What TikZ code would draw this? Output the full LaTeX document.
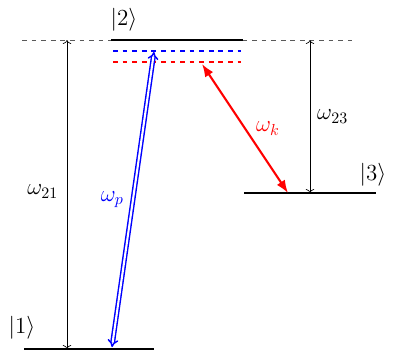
\documentclass[tikz,border=0pt]{standalone}
\usepackage{tikz}
\usetikzlibrary{arrows.meta}
\usepackage{amsmath, amsfonts}

\begin{document}
\begin{tikzpicture}[x=0.022cm, y=-0.022cm, every node/.style = {font=\Large}, level/.style = {line width=1.2pt}, virt/.style = {dashed, line width=0.8pt}]
            \useasboundingbox (0,0) rectangle (398,354);

            \coordinate (L1a) at (24,349);
            \coordinate (L1b) at (154,349);
            \coordinate (L2a) at (111,40);
            \coordinate (L2b) at (243,40);
            \coordinate (L3a) at (244,193);
            \coordinate (L3b) at (376,193);
            \coordinate (Ga) at (22,40);
            \coordinate (Gb) at (352,40);
            \coordinate (Ba) at (113,51);
            \coordinate (Bb) at (241,51);
            \coordinate (Ra) at (113,62);
            \coordinate (Rb) at (241,62);

            \node (K1) at (22,328) {$|1\rangle$};
            \node (K2) at (124,20) {$|2\rangle$};
            \node (K3) at (373,175) {$|3\rangle$};

            \draw[black!65, dashed, line width=0.6pt] (Ga) -- (Gb);
            \draw[level] (L1a) -- (L1b);
            \draw[level] (L2a) -- (L2b);
            \draw[level] (L3a) -- (L3b);
            \draw[virt, blue] (Ba) -- (Bb);
            \draw[virt, red] (Ra) -- (Rb);

            \coordinate (A21t) at (67,40);
            \coordinate (A21b) at (67,349);
            \coordinate (A23t) at (310,40);
            \coordinate (A23b) at (310,193);
            \draw[<->] (A21b) -- node[left=2pt, pos=0.51] {$\omega_{21}$} (A21t);
            \draw[<->] (A23b) -- node[right=1pt, pos=0.5] {$\omega_{23}$} (A23t);

            \coordinate (Pt) at (154,52);
            \coordinate (Pb) at (112,347);
            \draw[blue, double, line width=0.9pt, double distance=1.3pt, {Implies}-{Implies}] (Pt) -- node[left=2pt, pos=0.5] {$\omega_p$} (Pb);

            \coordinate (Kt) at (202,64);
            \coordinate (Kb) at (288,193);
            \draw[red, line width=1.3pt, {Latex[length=8pt, width=6pt]}-{Latex[length=8pt, width=6pt]}] (Kt) -- node[right=3pt, pos=0.5] {$\omega_k$} (Kb);

        \end{tikzpicture}
\end{document}
